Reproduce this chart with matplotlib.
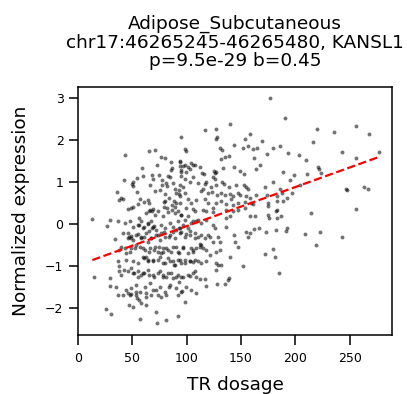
import numpy as np
import matplotlib
matplotlib.use("Agg")
import matplotlib.pyplot as plt

# TR dosage (x) and normalized expression (y)
tr_dosage = [
    94.7, 43.5, 65.6, 70.5, 76.3, 79.7, 72.4, 58.8, 85.9, 86.8, 85.3, 94.2, 93.5, 94.7,
    67.7, 69.3, 59.4, 54.2, 50.9, 49.6, 50.2, 41.9, 74.2, 77.6, 77.0, 80.9, 81.8, 83.1,
    84.6, 65.9, 70.5, 75.1, 80.0, 87.1, 89.2, 93.3, 94.2, 90.1, 93.3, 54.2, 35.5, 39.4,
    38.0, 41.3, 56.7, 60.4, 64.1, 65.6, 79.1, 80.0, 83.4, 88.7, 90.1, 86.5, 93.5, 50.2,
    54.8, 45.6, 48.7, 66.2, 68.7, 78.8, 81.8, 89.2,
    13.1, 29.0, 26.3, 36.4, 55.8, 57.9, 62.5, 65.0, 67.7, 70.8, 73.3, 78.2, 82.5, 86.5,
    89.2, 91.7, 94.7, 56.4, 60.4, 64.1, 67.7, 70.2, 65.6, 47.2, 45.6, 48.7, 50.2, 54.8,
    57.9, 61.0, 64.1, 67.1, 73.3, 76.3, 79.4, 84.1, 87.1, 90.1, 93.3, 33.9, 39.4, 38.0,
    44.1, 48.7, 53.3, 59.4, 62.5, 65.6, 70.2, 74.8, 77.9, 80.9, 85.5, 90.1, 93.3, 61.0,
    64.1, 68.7, 73.3, 77.9, 82.5, 87.1, 88.7, 91.7, 94.7, 37.0, 37.3, 38.0, 42.6, 48.7,
    51.8, 54.8, 57.9, 61.0, 65.6, 70.2, 73.3, 77.9, 80.9, 85.5, 90.1, 14.9, 29.3, 29.7,
    34.8, 36.4, 41.0, 45.6, 48.7, 53.3, 54.2, 53.3, 62.5, 71.7, 73.3, 76.3, 84.1, 91.7,
    93.3, 47.2, 50.2, 62.5, 25.6, 30.2, 71.7, 72.4, 80.9, 91.7,
    56.7, 57.6, 56.0, 67.5,
    176.5, 116.6, 126.7, 139.6, 127.4, 128.3, 158.7, 154.1, 169.4, 143.3, 151.9, 156.5,
    161.1, 164.8, 185.7, 179.0, 98.2, 99.7, 131.1, 132.6, 139.0, 135.0, 132.0, 161.8,
    173.5, 93.5, 96.6, 98.8, 101.2, 104.3, 105.8, 107.4, 112.0, 94.5, 99.7, 102.8, 133.5,
    143.6, 148.8, 152.5, 167.3, 164.2, 188.8, 114.5, 115.7, 124.9, 126.4, 127.4, 124.2,
    125.8, 95.1, 98.2, 105.8, 102.8, 110.4, 116.6, 118.2, 122.8, 126.7, 132.9, 134.1,
    139.0, 145.8, 152.8, 155.0, 156.5, 171.9, 179.0, 185.7, 115.0, 113.5, 119.6, 123.7,
    128.0, 131.3, 135.0, 139.6, 142.7, 147.3, 148.8, 154.4, 158.7, 164.2, 174.0, 182.7,
    187.8, 96.6, 98.2, 94.2, 101.2, 104.3, 108.9, 116.6, 119.6, 127.4, 132.0, 136.6,
    141.2, 142.7, 147.3, 153.5, 159.6, 161.1, 174.9, 182.7, 188.8, 99.7, 105.8, 124.2,
    136.6, 174.9, 182.7,
    107.4, 115.0, 118.2, 124.2, 142.7, 147.3, 153.5, 158.0, 162.7, 139.6, 136.6, 174.9,
    175.8, 182.0, 182.7, 186.6, 95.1, 98.2, 101.2, 105.8, 110.4, 113.5, 118.2, 124.2,
    125.8, 136.6, 143.3, 156.5, 155.0, 158.0, 161.7, 166.4, 172.8, 182.0, 93.5, 95.1,
    99.7, 102.8, 107.4, 110.4, 113.5, 116.6, 119.6, 121.2, 124.2, 128.8, 130.4, 112.0,
    113.5, 112.6, 115.0, 96.6, 104.3, 105.8, 108.9, 118.2, 121.2, 127.4, 130.4, 144.3,
    147.3, 140.3, 151.9, 171.9, 179.0, 181.1, 184.8, 98.2, 102.8, 105.8, 110.4, 113.5,
    118.2, 126.7, 128.8, 132.0, 127.4, 95.1, 102.8, 107.4, 108.9, 112.0, 116.6, 118.2,
    128.0, 135.0, 139.0, 138.0, 96.0, 98.2,
    190.3, 219.8, 235.5, 256.0, 267.7, 216.4, 193.4, 203.2, 210.3, 242.6, 255.5, 276.7,
    221.0, 222.0, 224.1, 211.2, 198.9, 194.9, 204.1, 197.0, 191.9, 246.3, 247.2, 263.1,
    266.5, 255.5, 214.9, 191.9, 191.4, 208.8, 223.2, 243.1, 218.6,
    # dense centre, second pass
    42.9, 47.5, 50.5, 55.1, 59.7, 64.4, 67.4, 69.0, 72.0, 76.6, 79.7, 84.3, 87.4, 92.0,
    96.6, 101.2, 104.3, 108.9,
    41.3, 45.9, 49.0, 53.6, 58.2, 62.8, 67.4, 72.0, 75.1, 79.7, 84.3, 88.9, 93.5, 98.2,
    102.8, 107.4,
    42.9, 47.5, 52.1, 56.7, 61.3, 65.9, 70.5, 73.6, 76.6, 78.2, 82.8, 87.4, 92.0, 96.6,
    101.2, 105.8,
    44.4, 50.5, 55.1, 59.7, 64.4, 69.0, 75.1, 79.7, 84.3, 88.9, 93.5, 98.2, 102.8, 107.4,
    39.8, 45.9, 50.5, 55.1, 59.7, 64.4, 69.0, 75.1, 78.2, 82.8, 87.4, 92.0, 96.6, 101.2,
    105.8,
    44.4, 49.0, 53.6, 56.7, 61.3, 65.9, 69.0, 75.1, 79.7, 84.3, 90.5, 95.1, 99.7, 104.3,
    108.9, 47.5, 62.8, 81.3,
]
norm_expr = [
    2.07, 1.64, 1.72, 1.75, 1.58, 1.55, 1.40, 1.33, 1.46, 1.32, 1.27, 1.47, 1.37, 1.23,
    1.15, 1.07, 1.13, 1.09, 0.99, 0.95, 0.89, 1.03, 1.16, 1.03, 0.92, 0.96, 0.89, 1.14,
    1.10, 0.91, 0.77, 0.81, 0.71, 0.96, 0.83, 0.80, 0.92, 0.72, 0.70, 0.75, 0.75, 0.60,
    0.57, 0.58, 0.59, 0.52, 0.56, 0.48, 0.52, 0.54, 0.62, 0.53, 0.48, 0.45, 0.49, 0.40,
    0.47, 0.34, 0.37, 0.33, 0.34, 0.40, 0.36, 0.40,
    0.10, 0.09, -0.05, 0.05, 0.14, 0.06, 0.25, 0.29, 0.30, 0.21, 0.29, 0.17, 0.27, 0.33,
    0.25, 0.29, 0.21, -0.03, -0.07, -0.01, -0.11, -0.05, -0.17, -0.31, -0.35, -0.29, -0.39, -0.25,
    -0.35, -0.31, -0.43, -0.35, -0.27, -0.23, -0.19, -0.31, -0.19, -0.15, -0.11, -0.36, -0.55, -0.63,
    -0.70, -0.59, -0.51, -0.59, -0.79, -0.67, -0.63, -0.55, -0.67, -0.59, -0.67, -0.55, -0.70, -0.82,
    -0.86, -0.90, -0.86, -0.94, -0.82, -0.90, -0.98, -0.86, -0.94, -0.90, -1.00, -1.14, -1.10, -1.06,
    -1.18, -1.14, -1.22, -1.18, -1.22, -1.26, -1.18, -1.22, -1.26, -1.18, -1.26, -1.26, -1.30, -1.48,
    -1.50, -1.71, -1.70, -1.66, -1.68, -1.62, -1.76, -1.71, -1.66, -1.58, -1.70, -1.74, -1.52, -1.70,
    -1.38, -1.94, -1.98, -1.94, -2.03, -2.15, -2.11, -2.37, -2.29, -2.21,
    -2.27, -1.88, -1.83, -1.70,
    3.00, 2.23, 2.25, 2.38, 2.02, 2.05, 2.14, 2.02, 1.97, 1.87, 1.80, 1.85,
    1.77, 1.81, 1.85, 1.79, 1.77, 1.73, 1.79, 1.75, 1.61, 1.59, 1.53, 1.57,
    1.65, 1.49, 1.37, 1.39, 1.35, 1.44, 1.39, 1.40, 1.35, 1.28, 1.23, 1.31, 1.32,
    1.35, 1.26, 1.18, 1.39, 1.31, 1.23, 1.20, 1.18, 1.25, 1.20, 1.23, 1.12,
    1.07, 1.14, 1.07, 1.10, 0.99, 0.96, 0.94, 0.98, 0.88, 0.93, 0.98, 0.95,
    0.86, 0.91, 0.92, 0.86, 0.82, 0.86, 0.98, 0.82, 0.82, 0.78, 0.72, 0.75,
    0.68, 0.72, 0.68, 0.70, 0.66, 0.72, 0.68, 0.66, 0.62, 0.68, 0.69, 0.66,
    0.72, 0.86, 0.72, 0.66, 0.58, 0.50, 0.56, 0.58, 0.50, 0.50, 0.54, 0.46,
    0.58, 0.44, 0.49, 0.52, 0.50, 0.46, 0.49, 0.54, 0.54, 0.38, 0.34, 0.36,
    0.33, 0.42, 0.33,
    0.29, 0.33, 0.29, 0.27, 0.29, 0.33, 0.37, 0.19, 0.17, 0.17, 0.13, 0.21,
    0.13, 0.30, 0.13, 0.17, 0.21, 0.09, 0.17, 0.05, 0.09, 0.01, 0.09, -0.03,
    -0.11, -0.07, -0.27, -0.31, -0.19, -0.23, -0.13, -0.10, -0.19, -0.16, -0.11, -0.19,
    -0.25, -0.17, -0.23, -0.31, -0.27, -0.35, -0.27, -0.31, -0.43, -0.31, -0.43, -0.49,
    -0.52, -0.55, -0.57, -0.55, -0.59, -0.67, -0.59, -0.63, -0.75, -0.67, -0.63, -0.43,
    -0.55, -0.79, -1.00, -0.73, -0.61, -0.79, -1.18, -0.86, -0.89, -0.92, -0.89, -0.94,
    -0.90, -0.94, -0.98, -0.98, -1.10, -1.26, -1.24, -1.14, -1.26, -1.32, -1.32, -1.48,
    -1.44, -1.43, -1.29, -1.34, -1.60, -1.86,
    2.52, 2.24, 2.18, 2.33, 2.13, 1.95, 1.68, 1.64, 1.52, 1.71, 1.55, 1.71,
    1.35, 1.30, 1.21, 1.19, 1.15, 1.03, 0.91, 0.74, 0.62, 0.82, 0.79, 0.87,
    0.82, 0.34, 0.26, -0.11, -0.17, -0.25, -0.20, -0.32, -0.50,
    # dense centre, second pass
    0.01, 0.05, -0.07, -0.03, -0.11, 0.01, 0.05, -0.07, -0.15, -0.03, -0.11, 0.01, -0.07, 0.05,
    -0.03, -0.11, 0.01, 0.05,
    -0.23, -0.23, -0.35, -0.27, -0.31, -0.23, -0.35, -0.27, -0.39, -0.31, -0.27, -0.35, -0.23, -0.31,
    -0.27, -0.35,
    -0.59, -0.67, -0.59, -0.55, -0.63, -0.59, -0.55, -0.67, -0.70, -0.59, -0.63, -0.55, -0.67, -0.59,
    -0.70, -0.63,
    -0.86, -0.90, -0.94, -0.79, -0.90, -0.86, -0.79, -0.94, -0.90, -0.98, -0.86, -0.94, -0.90, -0.86,
    -1.22, -1.14, -1.18, -1.26, -1.18, -1.10, -1.22, -1.14, -1.26, -1.18, -1.30, -1.22, -1.26, -1.22,
    -1.18,
    -1.58, -1.54, -1.46, -1.62, -1.50, -1.42, -1.58, -1.50, -1.62, -1.46, -1.54, -1.62, -1.50, -1.58,
    -1.66, -1.70, -1.74, -1.70,
]

title_lines = ["Adipose_Subcutaneous", "chr17:46265245-46265480, KANSL1", "p=9.5e-29 b=0.45"]
fit_intercept = -0.99
fit_slope = 0.0093

fig = plt.figure(figsize=(4.07, 3.94), dpi=100)
ax = fig.add_axes([0.192, 0.150, 0.771, 0.629])

ax.scatter(tr_dosage, norm_expr, s=8, color="black", alpha=0.55, linewidths=0)

xs = np.array([min(tr_dosage), max(tr_dosage)])
ax.plot(xs, fit_intercept + fit_slope * xs, color="red", linestyle="--", linewidth=1.6)

ax.set_xlim(0, 289)
ax.set_ylim(-2.65, 3.25)
ax.set_xticks([0, 50, 100, 150, 200, 250])
ax.set_yticks([-2, -1, 0, 1, 2, 3])
ax.tick_params(axis="x", labelsize=9, length=7, width=1.1, pad=5)
ax.tick_params(axis="y", labelsize=9, length=6.5, width=1.1, pad=4)
for sp in ax.spines.values():
    sp.set_linewidth(1.1)

ax.set_xlabel("TR dosage", fontsize=13.3, labelpad=8)
ax.set_ylabel("Normalized expression", fontsize=13.3, labelpad=11)
ax.set_title("\n".join(title_lines), fontsize=13.3, pad=15, linespacing=1.05)

fig.savefig("out.png", dpi=100)
